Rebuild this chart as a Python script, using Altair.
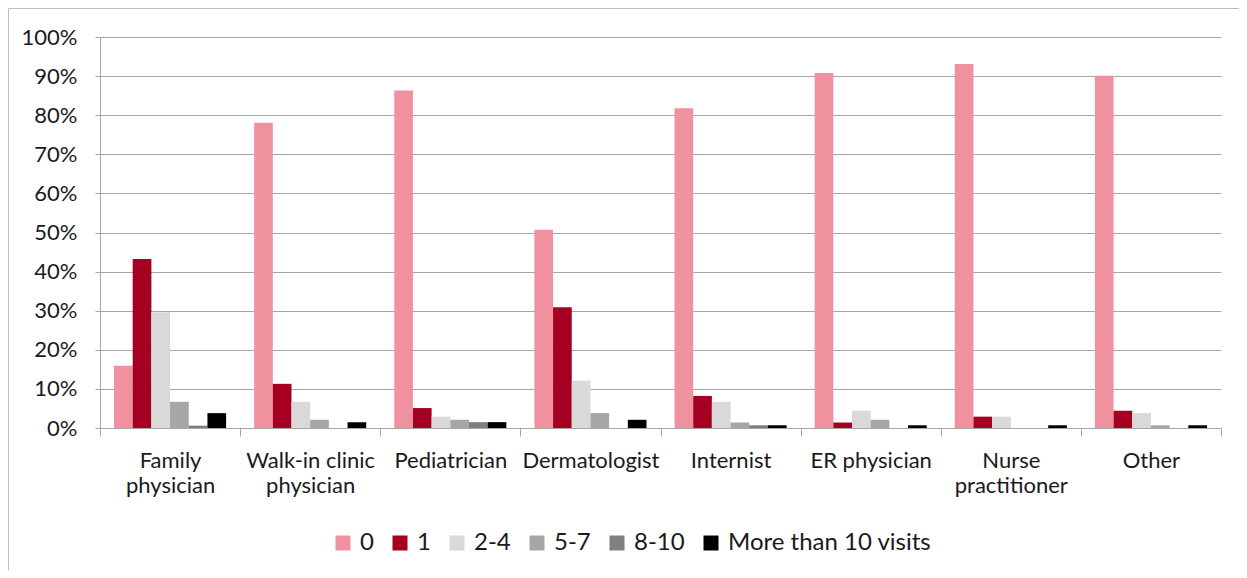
import altair as alt
import pandas as pd

categories = ["Family physician", "Walk-in clinic physician", "Pediatrician", "Dermatologist",
              "Internist", "ER physician", "Nurse practitioner", "Other"]
cat_labels = ["Family\nphysician", "Walk-in clinic\nphysician", "Pediatrician", "Dermatologist",
              "Internist", "ER physician", "Nurse\npractitioner", "Other"]
series = ["0", "1", "2-4", "5-7", "8-10", "More than 10 visits"]
colors = ["#F0919F", "#A50021", "#D9D9D9", "#A6A6A6", "#7F7F7F", "#000000"]

v_0 = [15.9, 78.1, 86.3, 50.7, 81.8, 90.8, 93.1, 90.1]
v_1 = [43.2, 11.3, 5.1, 30.9, 8.2, 1.4, 2.9, 4.4]
v_2_4 = [29.6, 6.7, 2.9, 12.1, 6.7, 4.4, 2.9, 3.8]
v_5_7 = [6.7, 2.1, 2.1, 3.8, 1.4, 2.1, 0.0, 0.7]
v_8_10 = [0.6, 0.0, 1.5, 0.0, 0.7, 0.0, 0.0, 0.0]
v_10p = [3.8, 1.5, 1.5, 2.1, 0.7, 0.7, 0.7, 0.7]

all_vals = [v_0, v_1, v_2_4, v_5_7, v_8_10, v_10p]
rows = []
for s, vals in zip(series, all_vals):
    for c, lab, v in zip(categories, cat_labels, vals):
        rows.append({"category": lab, "series": s, "value": v / 100.0})
df = pd.DataFrame(rows)

W, H = 1121, 391
FONT = "Lato"

bars = alt.Chart(df).mark_bar().encode(
    x=alt.X("category:N", sort=cat_labels,
            scale=alt.Scale(paddingInner=0, paddingOuter=0),
            axis=alt.Axis(title=None, labelAngle=0, tickBand="extent", tickSize=8,
                          tickColor="#A6A6A6", domainColor="#A6A6A6", labelPadding=14,
                          labelExpr="split(datum.label, '\\n')", labelLineHeight=25,
                          labelFont=FONT, labelFontSize=22, labelColor="#1a1a1a",
                          labelBaseline="top", labelOverlap=False)),
    xOffset=alt.XOffset("series:N", sort=series,
                        scale=alt.Scale(paddingInner=0, paddingOuter=0.75)),
    y=alt.Y("value:Q", scale=alt.Scale(domain=[0, 1]),
            axis=alt.Axis(title=None, format=".0%", values=[i / 10 for i in range(11)],
                          tickSize=5, tickColor="#A6A6A6", domainColor="#A6A6A6",
                          gridColor="#A6A6A6", labelPadding=18, labelFont=FONT,
                          labelFontSize=22, labelColor="#1a1a1a")),
    color=alt.Color("series:N", sort=series,
                    scale=alt.Scale(domain=series, range=colors),
                    legend=alt.Legend(title=None, orient="none", direction="horizontal",
                                      legendX=231, legendY=494, symbolType="square",
                                      symbolSize=225, symbolStrokeWidth=0,
                                      labelFont=FONT, labelFontSize=24, labelColor="#1a1a1a",
                                      labelOffset=5, columnPadding=14, labelLimit=400)),
)

border = alt.Chart(pd.DataFrame({"b": [0]})).mark_rect(
    fill=None, stroke="#BFBFBF", strokeWidth=1
).encode(
    x=alt.value(-91.5), x2=alt.value(W + 60), y=alt.value(-28.5), y2=alt.value(H + 200)
)

chart = alt.layer(border, bars).properties(
    width=W, height=H,
    autosize=alt.AutoSizeParams(type="none"),
    padding={"left": 92, "top": 29, "right": 18, "bottom": 142},
).configure_view(stroke=None).configure_axis(gridWidth=1, domainWidth=1, tickWidth=1)

chart.save("out.html", embed_options={"renderer": "svg", "actions": False})
